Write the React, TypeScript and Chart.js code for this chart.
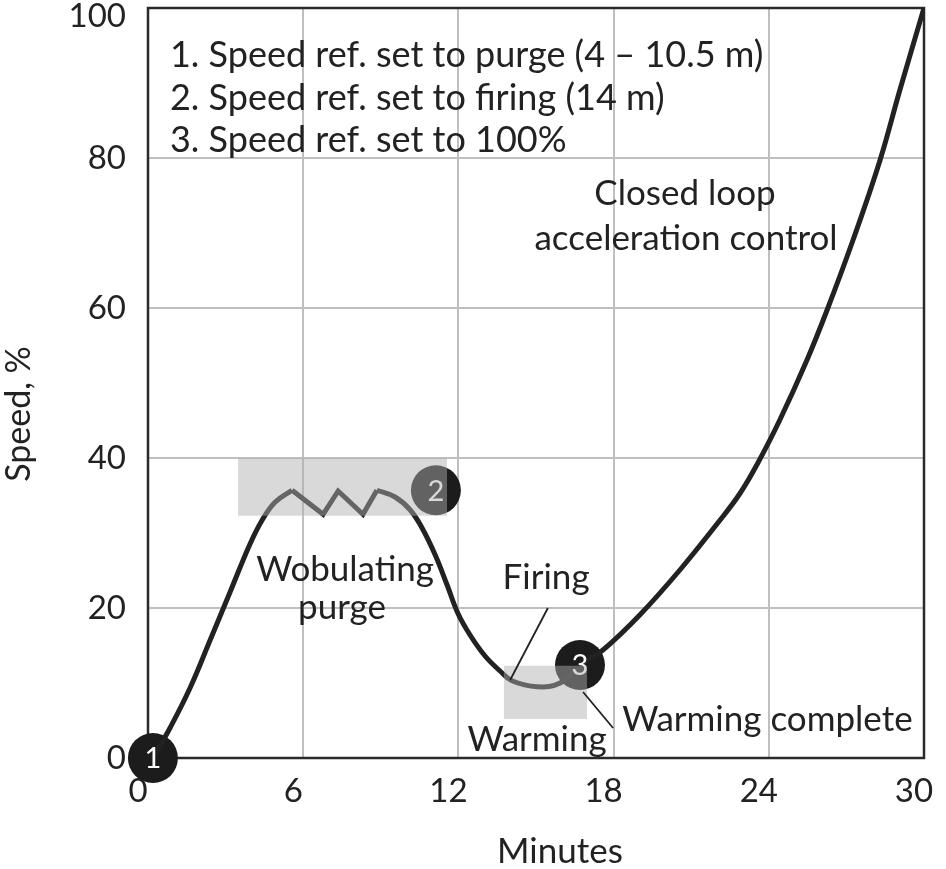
import React, { useEffect, useRef } from "react";
import { Chart, registerables } from "chart.js";

Chart.register(...registerables);

// Curve: rising ramp to purge speed
const rampMinutes = [0.19, 0.85, 1.62, 2.4, 3.17, 3.94, 4.41, 4.91, 5.57];
const rampSpeed = [0, 4.0, 9.3, 15.7, 22.1, 28.5, 31.7, 34.1, 35.7];
// Wobulating purge zig-zag
const wobbleMinutes = [5.57, 6.77, 7.35, 8.31, 8.85];
const wobbleSpeed = [35.7, 32.5, 35.6, 32.5, 35.7];
// Rest of the run: purge end, firing, warming, acceleration
const runMinutes = [8.85, 9.55, 10.13, 10.59, 11.1, 11.56, 11.98, 12.45, 13.03, 13.61, 14.07, 15.04, 15.93, 16.7, 17.59, 19.02, 20.57, 22.11, 22.89, 23.54, 24.43, 25.48, 26.25, 27.26, 28.3, 29.07, 30];
const runSpeed = [35.7, 34.8, 33.1, 30.7, 27.1, 23.1, 19.3, 16.4, 13.6, 11.6, 10.3, 9.5, 10.0, 12.4, 14.4, 19.1, 25.1, 31.7, 35.3, 39.1, 45.1, 53.1, 59.7, 69.1, 79.7, 89.1, 100];

// Numbered event markers
const markerMinutes = [0.19, 11.13, 16.7];
const markerSpeed = [0, 35.7, 12.4];
const markerLabels = ["1", "2", "3"];

// Shaded regions (minutes / speed ranges)
const boxFromMinutes = [3.48, 13.76];
const boxToMinutes = [11.56, 16.97];
const boxFromSpeed = [32.3, 5.2];
const boxToSpeed = [40, 12.3];

const xTicks = [0, 6, 12, 18, 24, 30];
const yTicks = [0, 20, 40, 60, 80, 100];

const legendLines = [
  "1. Speed ref. set to purge (4 \u2013 10.5 m)",
  "2. Speed ref. set to firing (14 m)",
  "3. Speed ref. set to 100%",
];

const xTitle = "Minutes";
const yTitle = "Speed, %";

const FONT = "Lato, 'Open Sans', sans-serif";
const INK = "#222222";

type Note = { text: string; x: number; y: number; align: CanvasTextAlign; size: number };
const notes: Note[] = [
  { text: "Wobulating", x: 7.62, y: 25.1, align: "center", size: 35 },
  { text: "purge", x: 7.5, y: 20.0, align: "center", size: 35 },
  { text: "Firing", x: 15.39, y: 24.0, align: "center", size: 35 },
  { text: "Warming", x: 15.04, y: 2.5, align: "center", size: 35 },
  { text: "Warming complete", x: 18.33, y: 5.1, align: "left", size: 35 },
  { text: "Closed loop", x: 20.76, y: 75.3, align: "center", size: 35 },
  { text: "acceleration control", x: 20.8, y: 69.3, align: "center", size: 35 },
  { text: legendLines[0], x: 0.85, y: 93.7, align: "left", size: 36 },
  { text: legendLines[1], x: 0.85, y: 88.0, align: "left", size: 36 },
  { text: legendLines[2], x: 0.85, y: 82.4, align: "left", size: 36 },
];

const leaders = [
  { x1: 14.0, y1: 10.4, x2: 15.46, y2: 20.0 },
  { x1: 16.82, y1: 8.8, x2: 17.98, y2: 4.0 },
];

function toXY(arrX: number[], arrY: number[]) {
  return arrX.map((x, i) => ({ x, y: arrY[i] }));
}

const decorPlugin = {
  id: "decor",
  beforeDatasetsDraw(chart: any) {
    const { ctx, chartArea } = chart;
    const ys = chart.scales.y;
    ctx.save();
    ctx.strokeStyle = "#2a2a2a";
    ctx.lineWidth = 2.5;
    ctx.strokeRect(chartArea.left, chartArea.top, chartArea.right - chartArea.left, chartArea.bottom - chartArea.top);
    // y tick labels (kept inside the canvas at the top)
    ctx.fillStyle = INK;
    ctx.font = `33px ${FONT}`;
    ctx.textAlign = "right";
    ctx.textBaseline = "middle";
    ys.ticks.forEach((t: any) => {
      const py = Math.max(ys.getPixelForValue(t.value), 16);
      ctx.fillText(String(t.value), chartArea.left - 22, py);
    });
    // axis titles
    ctx.font = `35px ${FONT}`;
    ctx.textAlign = "center";
    ctx.fillText(xTitle, 560, 852);
    ctx.save();
    ctx.translate(19, 414);
    ctx.rotate(-Math.PI / 2);
    ctx.font = `34px ${FONT}`;
    ctx.fillText(yTitle, 0, 0);
    ctx.restore();
    ctx.restore();
  },
  afterDatasetsDraw(chart: any) {
    const { ctx } = chart;
    const xs = chart.scales.x;
    const ys = chart.scales.y;
    ctx.save();
    // marker numbers
    const meta = chart.getDatasetMeta(3);
    ctx.fillStyle = "#ffffff";
    ctx.font = `29px ${FONT}`;
    ctx.textAlign = "center";
    ctx.textBaseline = "middle";
    meta.data.forEach((pt: any, i: number) => {
      ctx.fillText(markerLabels[i], pt.x, pt.y + 1);
    });
    // translucent shaded boxes over the curve and markers
    ctx.fillStyle = "rgba(176,176,176,0.48)";
    boxFromMinutes.forEach((_, i) => {
      const x0 = xs.getPixelForValue(boxFromMinutes[i]);
      const x1 = xs.getPixelForValue(boxToMinutes[i]);
      const y0 = ys.getPixelForValue(boxToSpeed[i]);
      const y1 = ys.getPixelForValue(boxFromSpeed[i]);
      ctx.fillRect(x0, y0, x1 - x0, y1 - y0);
    });
    // leader lines
    ctx.strokeStyle = INK;
    ctx.lineWidth = 1.8;
    leaders.forEach((l) => {
      ctx.beginPath();
      ctx.moveTo(xs.getPixelForValue(l.x1), ys.getPixelForValue(l.y1));
      ctx.lineTo(xs.getPixelForValue(l.x2), ys.getPixelForValue(l.y2));
      ctx.stroke();
    });
    // text notes
    ctx.fillStyle = INK;
    ctx.textBaseline = "middle";
    notes.forEach((n) => {
      ctx.font = `${n.size}px ${FONT}`;
      ctx.textAlign = n.align;
      ctx.fillText(n.text, xs.getPixelForValue(n.x), ys.getPixelForValue(n.y));
    });
    ctx.restore();
  },
};

export default function App() {
  const ref = useRef<HTMLCanvasElement | null>(null);
  useEffect(() => {
    if (!ref.current) return;
    const lineStyle = {
      borderColor: INK,
      borderWidth: 5,
      pointRadius: 0,
      fill: false,
      showLine: true,
    };
    const chart = new Chart(ref.current, {
      type: "scatter",
      data: {
        datasets: [
          { ...lineStyle, data: toXY(rampMinutes, rampSpeed), tension: 0.4 } as any,
          { ...lineStyle, data: toXY(wobbleMinutes, wobbleSpeed), tension: 0, borderJoinStyle: "miter" } as any,
          { ...lineStyle, data: toXY(runMinutes, runSpeed), tension: 0.4 } as any,
          {
            data: toXY(markerMinutes, markerSpeed),
            showLine: false,
            pointRadius: 25,
            pointHoverRadius: 25,
            pointBackgroundColor: "#1c1c1c",
            pointBorderWidth: 0,
            clip: false,
          } as any,
        ],
      },
      options: {
        animation: false,
        responsive: false,
        maintainAspectRatio: false,
        events: [],
        layout: { autoPadding: false, padding: { top: 8, right: 22, left: 0, bottom: 0 } },
        plugins: { legend: { display: false }, tooltip: { enabled: false } },
        scales: {
          x: {
            type: "linear",
            min: 0,
            max: 30,
            afterBuildTicks: (s: any) => {
              s.ticks = xTicks.map((v) => ({ value: v }));
            },
            afterFit: (s: any) => {
              s.height = 111;
              s.paddingLeft = 0;
              s.paddingRight = 0;
            },
            ticks: {
              color: INK,
              font: { family: FONT, size: 33 },
              padding: 14,
              labelOffset: -10,
              maxRotation: 0,
              autoSkip: false,
            },
            grid: { color: "#bfbfbf", lineWidth: 2, drawTicks: false },
            border: { display: false },
          },
          y: {
            type: "linear",
            min: 0,
            max: 100,
            afterBuildTicks: (s: any) => {
              s.ticks = yTicks.map((v) => ({ value: v }));
            },
            afterFit: (s: any) => {
              s.width = 148;
              s.paddingTop = 0;
              s.paddingBottom = 0;
            },
            ticks: { display: false },
            grid: { color: "#bfbfbf", lineWidth: 2, drawTicks: false },
            border: { display: false },
          },
        },
      },
      plugins: [decorPlugin],
    });
    return () => chart.destroy();
  }, []);
  return (
    <div style={{ position: "absolute", left: 0, top: 0, width: 946, height: 869, background: "#fff" }}>
      <canvas ref={ref} width={946} height={869} style={{ width: 946, height: 869 }} />
    </div>
  );
}
